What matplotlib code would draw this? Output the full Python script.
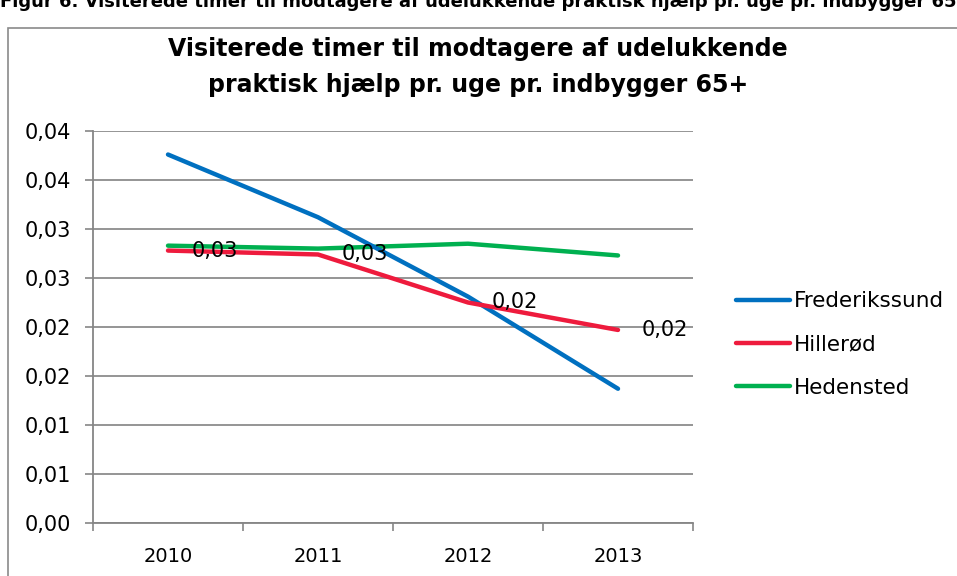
import matplotlib.pyplot as plt
from matplotlib.patches import Rectangle
from matplotlib.ticker import FixedLocator, FuncFormatter

years = ['2010', '2011', '2012', '2013']
frederikssund = [0.0376, 0.0312, 0.0231, 0.0137]
hilleroed = [0.0278, 0.0274, 0.0225, 0.0197]
hedensted = [0.0283, 0.0280, 0.0285, 0.0273]
hilleroed_labels = ['0,03', '0,03', '0,02', '0,02']

plt.rcParams['font.family'] = ['DejaVu Sans']

fig = plt.figure(figsize=(9.57, 5.76), dpi=100)
ax = fig.add_axes([93/957, 1 - 523/576, 600/957, 392/576])

x = range(len(years))
ax.plot(x, frederikssund, color='#0070C0', lw=3.2, solid_capstyle='round', label='Frederikssund', zorder=3)
ax.plot(x, hilleroed, color='#EE1B3D', lw=3.2, solid_capstyle='round', label='Hillerød', zorder=3)
ax.plot(x, hedensted, color='#00B050', lw=3.2, solid_capstyle='round', label='Hedensted', zorder=2)

for i, (v, t) in enumerate(zip(hilleroed, hilleroed_labels)):
    ax.annotate(t, (i, v), xytext=(17, 0), textcoords='offset points',
                ha='left', va='center', fontsize=15, zorder=4)

ax.set_xlim(-0.5, 3.5)
ax.set_ylim(0, 0.04)
ax.yaxis.set_major_locator(FixedLocator([i * 0.005 for i in range(9)]))
# excel style rounding: 0.005 -> 0,01, 0.015 -> 0,02
ax.yaxis.set_major_formatter(FuncFormatter(lambda v, p: f'{v + 1e-9:.2f}'.replace('.', ',')))
ax.set_xticks(list(x))
ax.set_xticklabels(years)
ax.xaxis.set_minor_locator(FixedLocator([-0.5, 0.5, 1.5, 2.5, 3.5]))
ax.tick_params(axis='x', which='major', length=0, pad=17, labelsize=14)
ax.tick_params(axis='x', which='minor', length=6, color='#868686', width=1.2)
ax.tick_params(axis='y', length=6, color='#868686', width=1.2, labelsize=15, pad=10)
ax.grid(axis='y', color='#8C8C8C', lw=1.3)
ax.set_axisbelow(True)
for s in ['top', 'right']:
    ax.spines[s].set_visible(False)
for s in ['left', 'bottom']:
    ax.spines[s].set_color('#868686')
    ax.spines[s].set_linewidth(1.3)

ax.legend(loc='center left', bbox_to_anchor=(1.039, 0.455), frameon=False, fontsize=15.5,
          handlelength=2.5, handletextpad=0.2, labelspacing=1.08)

fig.text(478/957, 1 - 67/576,
         'Visiterede timer til modtagere af udelukkende\npraktisk hjælp pr. uge pr. indbygger 65+',
         ha='center', va='center', fontsize=17, fontweight='bold', linespacing=1.65)

fig.text(0.0, 1 - 2/576,
         'Figur 6. Visiterede timer til modtagere af udelukkende praktisk hjælp pr. uge pr. indbygger 65+',
         ha='left', va='center', fontsize=13, fontweight='bold')

fig.patches.append(Rectangle((8/957, -0.1), 1.1, 1 - 28/576 + 0.1, transform=fig.transFigure,
                             fill=False, edgecolor='#8A8A8A', lw=1.2))

fig.savefig('out.png', dpi=100)
